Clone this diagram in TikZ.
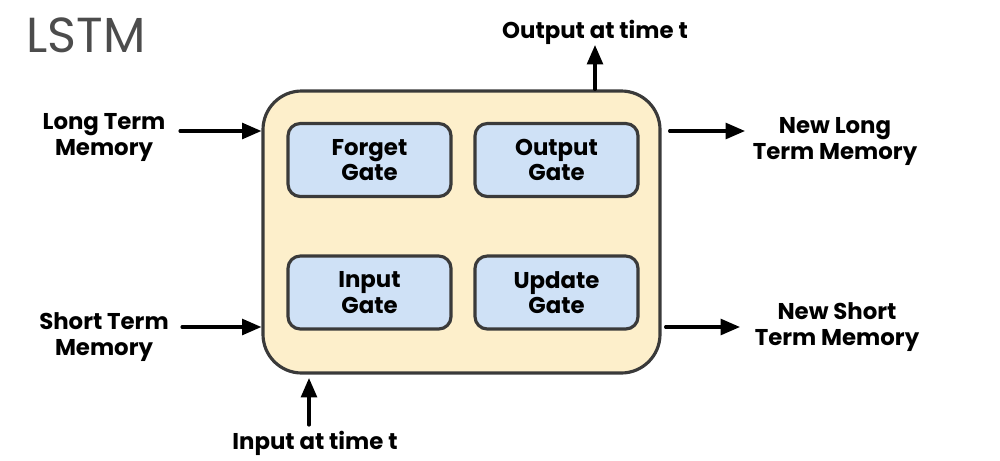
\documentclass[tikz,border=0pt]{standalone}
\usepackage{fontspec}
\setmainfont{Poppins}
\usetikzlibrary{arrows.meta}
\definecolor{cellfill}{HTML}{FDEFCB}
\definecolor{gatefill}{HTML}{CFE1F6}
\definecolor{edge}{HTML}{3A3A3A}
\begin{document}
\begin{tikzpicture}[>={Triangle[length=11pt,width=9pt]},line cap=round,line join=round,x=0.02cm,y=-0.02cm,line width=1.8pt,
	lbl/.style={font=\fontsize{13}{14.5}\selectfont\bfseries,align=center},
	gate/.style={draw=edge,fill=gatefill,rounded corners=7pt,minimum width=163*0.02cm,minimum height=73*0.02cm,lbl}]
			\useasboundingbox (0,0) rectangle (1000,460);
			\node[font=\fontsize{28}{34}\selectfont,text=black!70,anchor=west] (title) at (19,35) {LSTM};
			\node[draw=edge,fill=cellfill,rounded corners=22pt,minimum width=397*0.02cm,minimum height=282*0.02cm] (cell) at (461.5,232) {};
			\node[gate] (forget) at (369.5,160) {Forget\\Gate};
			\node[gate] (output) at (556.5,160) {Output\\Gate};
			\node[gate] (input) at (369.5,292.5) {Input\\Gate};
			\node[gate] (update) at (556.5,292.5) {Update\\Gate};
			\node[lbl] (ltm) at (104,137.5) {Long Term\\Memory};
			\node[lbl] (stm) at (104,337) {Short Term\\Memory};
			\node[lbl] (nltm) at (835,141.5) {New Long\\Term Memory};
			\node[lbl] (nstm) at (837,327) {New Short\\Term Memory};
			\node[lbl] (out) at (595,32) {Output at time t};
			\node[lbl] (in) at (315,443.5) {Input at time t};
			\draw[->] (180,131) -- (cell.west |- 0,131);
			\draw[->] (182,327) -- (cell.west |- 0,327);
			\draw[->] (cell.east |- 0,131) ++(8,0) -- (745,131);
			\draw[->] (cell.east |- 0,327) ++(4,0) -- (740,327);
			\draw[->] (cell.north -| 595,0) -- (595,45);
			\draw[->] (309,425) -- (309,378);
		\end{tikzpicture}
\end{document}
